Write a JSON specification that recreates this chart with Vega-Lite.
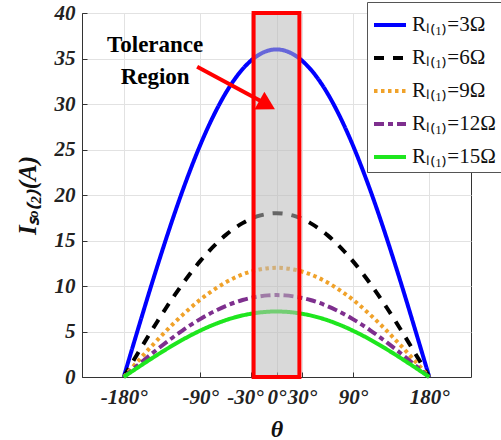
{
  "$schema": "https://vega.github.io/schema/vega-lite/v6.json",
  "width": 389,
  "height": 364,
  "autosize": {"type": "none"},
  "padding": {"left": 82, "top": 13, "right": 30, "bottom": 63},
  "background": "white",
  "config": {
    "view": {"stroke": "#333333", "strokeWidth": 1},
    "axis": {
      "gridColor": "#e2e2e2",
      "gridWidth": 1,
      "domainColor": "#333333",
      "tickColor": "#333333",
      "labelFont": "Liberation Serif",
      "labelFontStyle": "italic",
      "labelFontWeight": "bold",
      "labelFontSize": 21,
      "labelColor": "#222222",
      "titleFont": "Liberation Serif",
      "titleColor": "#111111"
    }
  },
  "layer": [
    {
      "data": {
        "values": [
          {"t": -180, "r3": 0, "r6": 0, "r9": 0, "r12": 0, "r15": 0},
          {"t": -170, "r3": 3.14, "r6": 1.57, "r9": 1.05, "r12": 0.78, "r15": 0.63},
          {"t": -160, "r3": 6.25, "r6": 3.13, "r9": 2.08, "r12": 1.56, "r15": 1.25},
          {"t": -150, "r3": 9.32, "r6": 4.66, "r9": 3.11, "r12": 2.33, "r15": 1.86},
          {"t": -140, "r3": 12.31, "r6": 6.16, "r9": 4.10, "r12": 3.08, "r15": 2.46},
          {"t": -130, "r3": 15.21, "r6": 7.61, "r9": 5.07, "r12": 3.80, "r15": 3.04},
          {"t": -120, "r3": 18.0, "r6": 9.0, "r9": 6.0, "r12": 4.5, "r15": 3.6},
          {"t": -110, "r3": 20.65, "r6": 10.32, "r9": 6.88, "r12": 5.16, "r15": 4.13},
          {"t": -100, "r3": 23.14, "r6": 11.57, "r9": 7.71, "r12": 5.79, "r15": 4.63},
          {"t": -90, "r3": 25.46, "r6": 12.73, "r9": 8.49, "r12": 6.36, "r15": 5.09},
          {"t": -80, "r3": 27.58, "r6": 13.79, "r9": 9.19, "r12": 6.89, "r15": 5.52},
          {"t": -70, "r3": 29.49, "r6": 14.74, "r9": 9.83, "r12": 7.37, "r15": 5.90},
          {"t": -60, "r3": 31.18, "r6": 15.59, "r9": 10.39, "r12": 7.79, "r15": 6.24},
          {"t": -50, "r3": 32.63, "r6": 16.31, "r9": 10.88, "r12": 8.16, "r15": 6.53},
          {"t": -40, "r3": 33.83, "r6": 16.91, "r9": 11.28, "r12": 8.46, "r15": 6.77},
          {"t": -30, "r3": 34.77, "r6": 17.39, "r9": 11.59, "r12": 8.69, "r15": 6.95},
          {"t": -20, "r3": 35.45, "r6": 17.73, "r9": 11.82, "r12": 8.86, "r15": 7.09},
          {"t": -10, "r3": 35.86, "r6": 17.93, "r9": 11.95, "r12": 8.97, "r15": 7.17},
          {"t": 0, "r3": 36.0, "r6": 18.0, "r9": 12.0, "r12": 9.0, "r15": 7.2},
          {"t": 10, "r3": 35.86, "r6": 17.93, "r9": 11.95, "r12": 8.97, "r15": 7.17},
          {"t": 20, "r3": 35.45, "r6": 17.73, "r9": 11.82, "r12": 8.86, "r15": 7.09},
          {"t": 30, "r3": 34.77, "r6": 17.39, "r9": 11.59, "r12": 8.69, "r15": 6.95},
          {"t": 40, "r3": 33.83, "r6": 16.91, "r9": 11.28, "r12": 8.46, "r15": 6.77},
          {"t": 50, "r3": 32.63, "r6": 16.31, "r9": 10.88, "r12": 8.16, "r15": 6.53},
          {"t": 60, "r3": 31.18, "r6": 15.59, "r9": 10.39, "r12": 7.79, "r15": 6.24},
          {"t": 70, "r3": 29.49, "r6": 14.74, "r9": 9.83, "r12": 7.37, "r15": 5.90},
          {"t": 80, "r3": 27.58, "r6": 13.79, "r9": 9.19, "r12": 6.89, "r15": 5.52},
          {"t": 90, "r3": 25.46, "r6": 12.73, "r9": 8.49, "r12": 6.36, "r15": 5.09},
          {"t": 100, "r3": 23.14, "r6": 11.57, "r9": 7.71, "r12": 5.79, "r15": 4.63},
          {"t": 110, "r3": 20.65, "r6": 10.32, "r9": 6.88, "r12": 5.16, "r15": 4.13},
          {"t": 120, "r3": 18.0, "r6": 9.0, "r9": 6.0, "r12": 4.5, "r15": 3.6},
          {"t": 130, "r3": 15.21, "r6": 7.61, "r9": 5.07, "r12": 3.80, "r15": 3.04},
          {"t": 140, "r3": 12.31, "r6": 6.16, "r9": 4.10, "r12": 3.08, "r15": 2.46},
          {"t": 150, "r3": 9.32, "r6": 4.66, "r9": 3.11, "r12": 2.33, "r15": 1.86},
          {"t": 160, "r3": 6.25, "r6": 3.13, "r9": 2.08, "r12": 1.56, "r15": 1.25},
          {"t": 170, "r3": 3.14, "r6": 1.57, "r9": 1.05, "r12": 0.78, "r15": 0.63},
          {"t": 180, "r3": 0, "r6": 0, "r9": 0, "r12": 0, "r15": 0}
        ]
      },
      "transform": [{"fold": ["r3", "r6", "r9", "r12", "r15"], "as": ["R", "I"]}],
      "mark": {"type": "line", "strokeWidth": 4, "strokeCap": "butt", "interpolate": "monotone"},
      "encoding": {
        "x": {
          "field": "t", "type": "quantitative",
          "scale": {"domain": [-229.2, 229.2], "nice": false, "zero": false},
          "axis": {
            "values": [-180, -90, -30, 0, 30, 90, 180],
            "labelExpr": "datum.value + '°'",
            "labelOverlap": false,
            "labelOffset": {"condition": {"test": "datum.value == -30", "value": -6}, "value": 0},
            "tickSize": -5,
            "labelPadding": 14,
            "title": "θ",
            "titleFontSize": 24,
            "titleFontStyle": "italic",
            "titleFontWeight": "bold",
            "titlePadding": 10
          }
        },
        "y": {
          "field": "I", "type": "quantitative",
          "scale": {"domain": [0, 40], "nice": false},
          "axis": {
            "values": [0, 5, 10, 15, 20, 25, 30, 35, 40],
            "tickSize": -5,
            "labelPadding": 12,
            "title": "Iₛₒ₍₂₎(A)",
            "titleFontSize": 25,
            "titleFontStyle": "italic",
            "titleFontWeight": "bold",
            "titlePadding": 14
          }
        },
        "color": {
          "field": "R", "type": "nominal",
          "scale": {"domain": ["r3", "r6", "r9", "r12", "r15"], "range": ["#0000ff", "#000000", "#f0a22a", "#7e2f8e", "#1ee61e"]},
          "legend": {
            "title": null,
            "orient": "none",
            "legendX": 285,
            "legendY": -11,
            "labelExpr": "{'r3':'Rₗ₍₁₎=3Ω','r6':'Rₗ₍₁₎=6Ω','r9':'Rₗ₍₁₎=9Ω','r12':'Rₗ₍₁₎=12Ω','r15':'Rₗ₍₁₎=15Ω'}[datum.label]",
            "labelFont": "Liberation Serif",
            "labelFontSize": 21,
            "labelFontStyle": "normal",
            "labelFontWeight": "normal",
            "labelColor": "#111111",
            "labelOffset": 4,
            "symbolType": "stroke",
            "symbolSize": 1024,
            "symbolStrokeWidth": 4,
            "rowPadding": 5,
            "padding": 5,
            "strokeColor": "#555555",
            "fillColor": "white",
            "cornerRadius": 0
          }
        },
        "strokeDash": {
          "field": "R", "type": "nominal",
          "scale": {"domain": ["r3", "r6", "r9", "r12", "r15"], "range": [[1, 0], [10, 9], [3.5, 3.5], [10, 4, 5, 4], [1, 0]]},
          "legend": null
        }
      }
    },
    {
      "data": {"values": [{"a": -27, "b": 27, "lo": 0, "hi": 40}]},
      "mark": {"type": "rect", "fill": "#b9b9b9", "fillOpacity": 0.55, "stroke": "#ff0000", "strokeWidth": 4},
      "encoding": {
        "x": {"field": "a", "type": "quantitative"},
        "x2": {"field": "b"},
        "y": {"field": "lo", "type": "quantitative"},
        "y2": {"field": "hi"}
      }
    },
    {
      "data": {"values": [{"x1": -93.5, "y1": 34.1, "x2": -12, "y2": 30.0}]},
      "mark": {"type": "rule", "color": "#ff0000", "strokeWidth": 4},
      "encoding": {
        "x": {"field": "x1", "type": "quantitative"},
        "y": {"field": "y1", "type": "quantitative"},
        "x2": {"field": "x2"},
        "y2": {"field": "y2"}
      }
    },
    {
      "data": {"values": [{"x": -11, "y": 29.9}]},
      "mark": {"type": "point", "shape": "triangle-right", "filled": true, "color": "#ff0000", "size": 420, "angle": 29, "opacity": 1},
      "encoding": {
        "x": {"field": "x", "type": "quantitative"},
        "y": {"field": "y", "type": "quantitative"}
      }
    },
    {
      "data": {"values": [{"x": -143, "y": 36.5, "txt": "Tolerance"}, {"x": -143, "y": 33.0, "txt": "Region"}]},
      "mark": {"type": "text", "font": "Liberation Serif", "fontSize": 23, "fontWeight": "bold", "color": "#000000", "align": "center", "baseline": "middle"},
      "encoding": {
        "x": {"field": "x", "type": "quantitative"},
        "y": {"field": "y", "type": "quantitative"},
        "text": {"field": "txt"}
      }
    }
  ]
}
